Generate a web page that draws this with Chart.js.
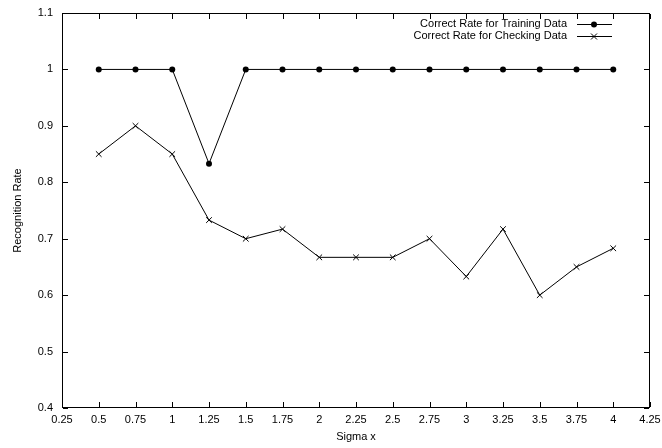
<!DOCTYPE html>
<html>
<head>
<meta charset="utf-8">
<script src="https://cdn.jsdelivr.net/npm/chart.js@4.4.0/dist/chart.umd.min.js"></script>
<style>
  html, body { margin: 0; padding: 0; background: #fff; overflow: hidden; }
  canvas { display: block; }
</style>
</head>
<body>
<canvas id="grafico" width="662" height="448"></canvas>
<script>
const sigma = [0.5, 0.75, 1, 1.25, 1.5, 1.75, 2, 2.25, 2.5, 2.75, 3, 3.25, 3.5, 3.75, 4];
const trainRate = [1, 1, 1, 0.833, 1, 1, 1, 1, 1, 1, 1, 1, 1, 1, 1];
const checkRate = [0.85, 0.9, 0.85, 0.733, 0.7, 0.717, 0.667, 0.667, 0.667, 0.7, 0.633, 0.717, 0.6, 0.65, 0.683];
const xTicks = [0.25, 0.5, 0.75, 1, 1.25, 1.5, 1.75, 2, 2.25, 2.5, 2.75, 3, 3.25, 3.5, 3.75, 4, 4.25];
const yTicks = [0.4, 0.5, 0.6, 0.7, 0.8, 0.9, 1, 1.1];
const seriesNames = ["Correct Rate for Training Data", "Correct Rate for Checking Data"];

const fuente = { family: "'Liberation Sans', Arial, sans-serif", size: 11 };

function puntos(xs, ys) {
  return xs.map((x, i) => ({ x: x, y: ys[i] }));
}

// marco completo y ticks hacia adentro en los cuatro lados, como gnuplot
const marco = {
  id: "marco",
  afterDraw(chart) {
    const { ctx, chartArea: a, scales } = chart;
    ctx.save();
    ctx.fillStyle = "#000";
    const l = Math.round(a.left), r = Math.round(a.right) - 1;
    const t = Math.round(a.top), b = Math.round(a.bottom) - 1;
    ctx.fillRect(l, t, r - l + 1, 1);
    ctx.fillRect(l, b, r - l + 1, 1);
    ctx.fillRect(l, t, 1, b - t + 1);
    ctx.fillRect(r, t, 1, b - t + 1);
    xTicks.forEach((v) => {
      const px = Math.round(scales.x.getPixelForValue(v));
      ctx.fillRect(px, b - 5, 1, 5);
      ctx.fillRect(px, t + 1, 1, 5);
    });
    yTicks.forEach((v) => {
      const py = Math.round(scales.y.getPixelForValue(v));
      ctx.fillRect(l + 1, py, 5, 1);
      ctx.fillRect(r - 5, py, 5, 1);
    });
    ctx.restore();
  },
};

// leyenda estilo gnuplot: texto a la derecha y muestra de linea
const leyenda = {
  id: "leyenda",
  afterDraw(chart) {
    const ctx = chart.ctx;
    ctx.save();
    ctx.font = `${fuente.size}px ${fuente.family}`;
    ctx.fillStyle = "#000";
    ctx.strokeStyle = "#000";
    ctx.lineWidth = 1;
    ctx.textAlign = "right";
    ctx.textBaseline = "middle";
    seriesNames.forEach((nombre, i) => {
      const y = 24 + i * 12;
      ctx.fillText(nombre, 567, y);
      ctx.beginPath();
      ctx.moveTo(577, y + 0.5);
      ctx.lineTo(612, y + 0.5);
      ctx.stroke();
      const mx = 594;
      if (i === 0) {
        ctx.beginPath();
        ctx.arc(mx, y + 0.5, 3, 0, Math.PI * 2);
        ctx.fill();
      } else {
        ctx.beginPath();
        ctx.moveTo(mx - 3, y - 2.5); ctx.lineTo(mx + 3, y + 3.5);
        ctx.moveTo(mx + 3, y - 2.5); ctx.lineTo(mx - 3, y + 3.5);
        ctx.stroke();
      }
    });
    ctx.restore();
  },
};

new Chart(document.getElementById("grafico"), {
  type: "line",
  data: {
    datasets: [
      {
        label: seriesNames[0],
        data: puntos(sigma, trainRate),
        borderColor: "#000",
        backgroundColor: "#000",
        borderWidth: 1,
        pointStyle: "circle",
        pointRadius: 3,
        pointBorderWidth: 0,
        tension: 0,
      },
      {
        label: seriesNames[1],
        data: puntos(sigma, checkRate),
        borderColor: "#000",
        backgroundColor: "#000",
        borderWidth: 1,
        pointStyle: "crossRot",
        pointRadius: 4,
        pointBorderWidth: 1,
        tension: 0,
      },
    ],
  },
  options: {
    responsive: false,
    animation: false,
    devicePixelRatio: 1,
    layout: { padding: { left: 0, right: 12, top: 13, bottom: 0 } },
    plugins: { legend: { display: false }, tooltip: { enabled: false } },
    scales: {
      x: {
        type: "linear",
        min: 0.25,
        max: 4.25,
        afterBuildTicks: (s) => { s.ticks = xTicks.map((v) => ({ value: v })); },
        afterFit: (s) => { s.height = 40; s.paddingLeft = 0; s.paddingRight = 0; },
        grid: { display: false, drawTicks: false },
        border: { display: false },
        ticks: { color: "#000", font: fuente, padding: 5, maxRotation: 0, autoSkip: false,
                 callback: (v) => String(v) },
        title: { display: true, text: "Sigma x", color: "#000", font: fuente, padding: { top: 0, bottom: 4 } },
      },
      y: {
        type: "linear",
        min: 0.4,
        max: 1.1,
        afterBuildTicks: (s) => { s.ticks = yTicks.map((v) => ({ value: v })); },
        afterFit: (s) => { s.width = 62; s.paddingTop = 0; s.paddingBottom = 0; },
        grid: { display: false, drawTicks: false },
        border: { display: false },
        ticks: { color: "#000", font: fuente, padding: 9, autoSkip: false,
                 callback: (v) => String(Math.round(v * 10) / 10) },
        title: { display: true, text: "Recognition Rate", color: "#000", font: fuente, padding: { top: 11, bottom: 0 } },
      },
    },
  },
  plugins: [marco, leyenda],
});
</script>
</body>
</html>
